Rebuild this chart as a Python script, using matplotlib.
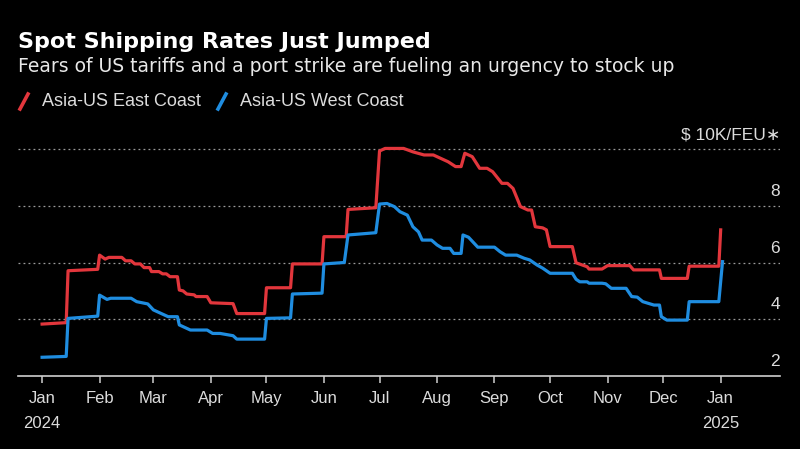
import matplotlib
matplotlib.use("Agg")
import matplotlib.pyplot as plt
import matplotlib.dates as mdates
from matplotlib.lines import Line2D
import pandas as pd


# ============================================
# DATA  ($ thousand per FEU)
# ============================================
east_dates = [
    "2024-01-01", "2024-01-14", "2024-01-15", "2024-01-31", "2024-02-01",
    "2024-02-04", "2024-02-06", "2024-02-13", "2024-02-15", "2024-02-18",
    "2024-02-20", "2024-02-23", "2024-02-25", "2024-02-28", "2024-02-29",
    "2024-03-04", "2024-03-06", "2024-03-08", "2024-03-10", "2024-03-14",
    "2024-03-15", "2024-03-17", "2024-03-19", "2024-03-23", "2024-03-24",
    "2024-03-30", "2024-04-01", "2024-04-13", "2024-04-15", "2024-04-30",
    "2024-05-01", "2024-05-14", "2024-05-15", "2024-05-31", "2024-06-01",
    "2024-06-13", "2024-06-14", "2024-06-29", "2024-07-01", "2024-07-04",
    "2024-07-14", "2024-07-19", "2024-07-25", "2024-07-30", "2024-08-03",
    "2024-08-07", "2024-08-11", "2024-08-14", "2024-08-16", "2024-08-20",
    "2024-08-24", "2024-08-28", "2024-08-31", "2024-09-05", "2024-09-08",
    "2024-09-11", "2024-09-15", "2024-09-19", "2024-09-21", "2024-09-23",
    "2024-09-27", "2024-09-29", "2024-10-01", "2024-10-13", "2024-10-15",
    "2024-10-21", "2024-10-22", "2024-10-29", "2024-11-01", "2024-11-13",
    "2024-11-15", "2024-11-29", "2024-11-30", "2024-12-14", "2024-12-15",
    "2024-12-31", "2025-01-01",
]
east_vals = [
    3.83, 3.88, 5.71, 5.76, 6.26,
    6.12, 6.18, 6.18, 6.06, 6.06,
    5.95, 5.95, 5.82, 5.82, 5.68,
    5.68, 5.60, 5.60, 5.50, 5.50,
    5.03, 5.00, 4.89, 4.86, 4.80,
    4.80, 4.58, 4.55, 4.20, 4.20,
    5.11, 5.11, 5.95, 5.95, 6.91,
    6.91, 7.87, 7.93, 9.93, 10.02,
    10.02, 9.90, 9.79, 9.79, 9.67,
    9.55, 9.38, 9.38, 9.85, 9.73,
    9.32, 9.32, 9.20, 8.79, 8.79,
    8.61, 7.97, 7.85, 7.85, 7.26,
    7.22, 7.15, 6.56, 6.56, 5.99,
    5.85, 5.77, 5.77, 5.89, 5.89,
    5.74, 5.74, 5.44, 5.44, 5.87,
    5.87, 7.15,
]

west_dates = [
    "2024-01-01", "2024-01-14", "2024-01-15", "2024-01-31", "2024-02-01",
    "2024-02-05", "2024-02-07", "2024-02-18", "2024-02-21", "2024-02-27",
    "2024-03-01", "2024-03-05", "2024-03-09", "2024-03-14", "2024-03-15",
    "2024-03-21", "2024-03-30", "2024-04-02", "2024-04-06", "2024-04-13",
    "2024-04-15", "2024-04-30", "2024-05-01", "2024-05-14", "2024-05-15",
    "2024-05-31", "2024-06-01", "2024-06-12", "2024-06-14", "2024-06-29",
    "2024-07-01", "2024-07-05", "2024-07-09", "2024-07-12", "2024-07-16",
    "2024-07-19", "2024-07-22", "2024-07-24", "2024-07-29", "2024-08-01",
    "2024-08-04", "2024-08-08", "2024-08-10", "2024-08-14", "2024-08-15",
    "2024-08-18", "2024-08-23", "2024-09-01", "2024-09-04", "2024-09-07",
    "2024-09-13", "2024-09-17", "2024-09-20", "2024-09-24", "2024-09-27",
    "2024-10-01", "2024-10-13", "2024-10-15", "2024-10-17", "2024-10-21",
    "2024-10-22", "2024-10-29", "2024-10-31", "2024-11-03", "2024-11-11",
    "2024-11-14", "2024-11-17", "2024-11-20", "2024-11-26", "2024-11-29",
    "2024-11-30", "2024-12-03", "2024-12-14", "2024-12-15", "2024-12-31",
    "2025-01-02",
]
west_vals = [
    2.66, 2.69, 4.03, 4.11, 4.85,
    4.70, 4.74, 4.74, 4.62, 4.54,
    4.33, 4.21, 4.09, 4.09, 3.80,
    3.62, 3.62, 3.50, 3.50, 3.42,
    3.30, 3.30, 4.03, 4.05, 4.89,
    4.92, 5.95, 6.00, 6.97, 7.05,
    8.06, 8.08, 7.97, 7.79, 7.67,
    7.26, 7.08, 6.79, 6.79, 6.62,
    6.50, 6.50, 6.32, 6.32, 6.97,
    6.89, 6.54, 6.54, 6.38, 6.26,
    6.26, 6.15, 6.09, 5.91, 5.80,
    5.62, 5.62, 5.41, 5.32, 5.32,
    5.27, 5.27, 5.25, 5.09, 5.09,
    4.80, 4.78, 4.62, 4.50, 4.50,
    4.09, 3.97, 3.97, 4.62, 4.62,
    6.03,
]

y_ticks = [2, 4, 6, 8, 10]
y_labels = ["2", "4", "6", "8", "$ 10K/FEU\u2217"]

series_names = ["Asia-US East Coast", "Asia-US West Coast"]
RED = "#e2363c"
BLUE = "#1f8de0"
BG = "black"
GRID = "#9a9a9a"
TXT = "#dcdcdc"

plt.rcParams["font.family"] = ["Liberation Sans", "DejaVu Sans"]

W, H = 800, 449


def px(x, y):
    # pixel position -> figure fraction
    return x / W, 1 - y / H


# ============================================
# FIGURE
# ============================================
fig = plt.figure(figsize=(8, 4.49), dpi=100, facecolor=BG)

y_top = 10.3
ax_left, ax_right = 18, 780
ax_bottom_px = 376
ax_top_px = 376 - (y_top - 2) * (227 / 8)
ax = fig.add_axes([ax_left / W, 1 - ax_bottom_px / H,
                   (ax_right - ax_left) / W, (ax_bottom_px - ax_top_px) / H])
ax.set_facecolor(BG)

east = pd.Series(east_vals, index=pd.to_datetime(east_dates))
west = pd.Series(west_vals, index=pd.to_datetime(west_dates))

ax.plot(east.index, east.values, color=RED, linewidth=2.3, solid_joinstyle="round", zorder=3)
ax.plot(west.index, west.values, color=BLUE, linewidth=2.3, solid_joinstyle="round", zorder=4)

ax.set_xlim(pd.Timestamp("2023-12-19"), pd.Timestamp("2025-02-02"))
ax.set_ylim(2, y_top)

# gridlines
for v in y_ticks[1:]:
    ax.axhline(v, color=GRID, linewidth=0.9, linestyle=(0, (1.5, 2.5)), zorder=1)

# y labels sit just above their line, right aligned
for v, lab in zip(y_ticks, y_labels):
    ax.annotate(lab, xy=(1.0, v), xycoords=("axes fraction", "data"),
                xytext=(0, 5), textcoords="offset points",
                ha="right", va="bottom", color=TXT, fontsize=12.5)

ax.set_yticks([])
for s in ["top", "right", "left"]:
    ax.spines[s].set_visible(False)
ax.spines["bottom"].set_color("#cfcfcf")
ax.spines["bottom"].set_linewidth(1.2)

months = pd.date_range("2024-01-01", "2025-01-01", freq="MS")
ax.set_xticks(months)
labels = []
for m in months:
    lab = m.strftime("%b")
    if m.month == 1:
        lab += "\n" + str(m.year)
    labels.append(lab)
ax.set_xticklabels(labels, color=TXT, fontsize=12, linespacing=1.8, va="top")
ax.tick_params(axis="x", colors="#cfcfcf", length=5, width=1.1, pad=6, labelcolor=TXT)

# ============================================
# TITLE / SUBTITLE / LEGEND
# ============================================
fig.text(*px(18, 42), "Spot Shipping Rates Just Jumped", color="white",
         fontsize=16, fontweight="bold", va="center", ha="left",
         family="DejaVu Sans")
fig.text(*px(18, 67), "Fears of US tariffs and a port strike are fueling an urgency to stock up",
         color="#e8e8e8", fontsize=13.5, va="center", ha="left",
         family="DejaVu Sans")

legend_items = [(18, series_names[0], RED), (216, series_names[1], BLUE)]
for x0, name, col in legend_items:
    (a, b), (c, d) = px(x0 + 2, 109), px(x0 + 10, 94)
    fig.add_artist(Line2D([a, c], [b, d], color=col, linewidth=2.6,
                          transform=fig.transFigure))
    fig.text(*px(x0 + 24, 102), name, color=TXT, fontsize=13, va="center", ha="left")

fig.savefig("out.png", dpi=100, facecolor=BG)
